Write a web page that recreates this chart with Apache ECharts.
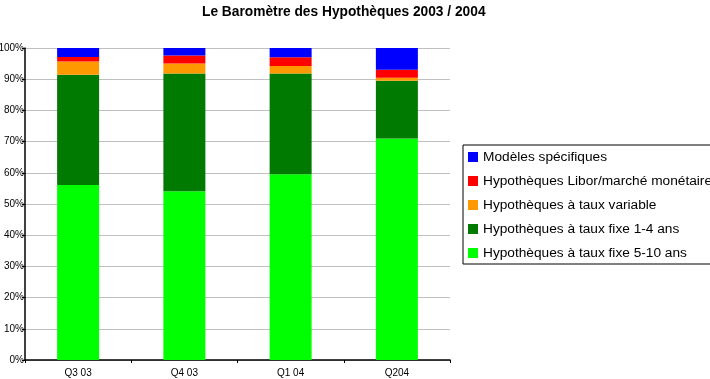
<!DOCTYPE html>
<html>
<head>
<meta charset="utf-8">
<script src="https://cdn.jsdelivr.net/npm/echarts@6/dist/echarts.min.js"></script>
<style>html,body{margin:0;padding:0;background:#fff;}#c{width:710px;height:379px;}</style>
</head>
<body>
<div id="c"></div>
<script>
const categories = ['Q3 03', 'Q4 03', 'Q1 04', 'Q204'];
const fixe510 = [56.1, 54.1, 59.5, 71.0];
const fixe14 = [35.3, 37.7, 32.3, 18.5];
const variable = [4.3, 3.2, 2.4, 1.0];
const libor = [1.4, 2.6, 2.8, 2.5];
const specifiques = [2.9, 2.4, 3.0, 7.0];
const seriesNames = ['Hypothèques à taux fixe 5-10 ans', 'Hypothèques à taux fixe 1-4 ans', 'Hypothèques à taux variable', 'Hypothèques Libor/marché monétaire', 'Modèles spécifiques'];
const seriesColors = ['#00ff00', '#007a00', '#ff9900', '#ff0000', '#0000ff'];
const seriesData = [fixe510, fixe14, variable, libor, specifiques];
const titleText = 'Le Baromètre des Hypothèques 2003 / 2004';

const FONT = '"Liberation Sans", Arial, sans-serif';
const chart = echarts.init(document.getElementById('c'), null, {renderer: 'canvas'});
chart.setOption({
  animation: false,
  backgroundColor: '#ffffff',
  title: {
    text: titleText,
    left: 197, top: 0,
    textStyle: {fontFamily: FONT, fontSize: 13.75, fontWeight: 'bold', color: '#000'}
  },
  legend: {
    orient: 'vertical',
    left: 463, top: 145,
    padding: [5, 40, 4, 5],
    borderColor: '#000', borderWidth: 1,
    itemWidth: 10, itemHeight: 10, itemGap: 10,
    icon: 'rect',
    data: seriesNames.slice().reverse(),
    textStyle: {fontFamily: FONT, fontSize: 13.7, color: '#000', lineHeight: 14}
  },
  grid: {left: 25, right: 260, top: 48, bottom: 19, containLabel: false, outerBoundsMode: 'none'},
  xAxis: {
    type: 'category',
    data: categories,
    axisLine: {lineStyle: {color: '#000', width: 1.5}},
    axisTick: {show: true, length: 3, lineStyle: {color: '#000'}},
    axisLabel: {fontFamily: FONT, fontSize: 10, color: '#000', margin: 8},
    splitLine: {show: false}
  },
  yAxis: {
    type: 'value',
    min: 0, max: 100, interval: 10,
    axisLine: {show: true, lineStyle: {color: '#000', width: 1.5}},
    axisTick: {show: true, length: 3, lineStyle: {color: '#000'}},
    axisLabel: {fontFamily: FONT, fontSize: 10, color: '#000', margin: 1, formatter: '{value}%'},
    splitLine: {show: true, lineStyle: {color: '#c0c0c0', width: 1}}
  },
  series: seriesNames.map((n, i) => ({
    name: n,
    type: 'bar',
    stack: 'total',
    barWidth: 42,
    data: seriesData[i],
    itemStyle: {color: seriesColors[i]}
  }))
});
</script>
</body>
</html>
